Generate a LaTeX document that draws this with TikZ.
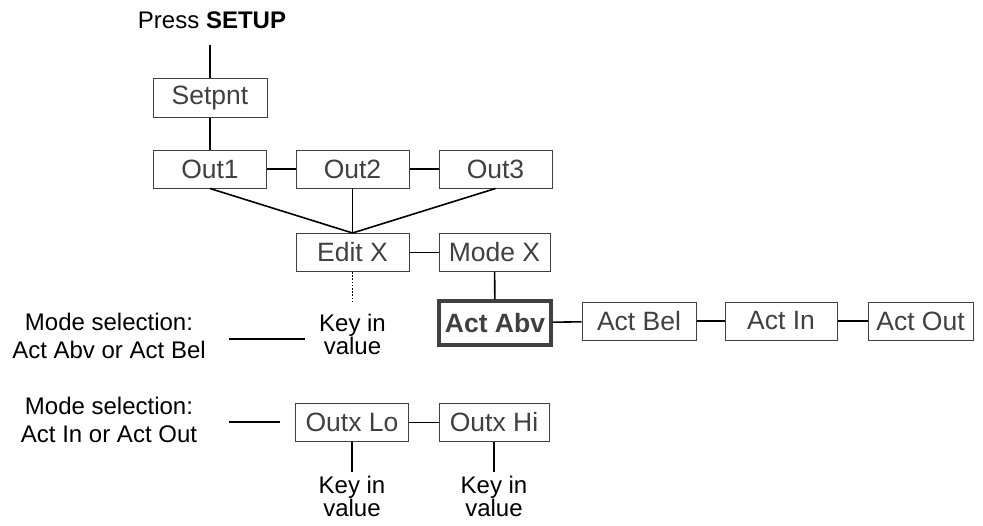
\documentclass[tikz,border=0pt]{standalone}
\usepackage{fontspec}
\setmainfont{Liberation Sans}
\begin{document}
\begin{tikzpicture}[x=1pt,y=-1pt,
  box/.style={draw=black!75,line width=1pt,text=black!75,minimum width=113pt,minimum height=38pt,inner sep=0pt,font=\fontsize{26.5}{30}\selectfont},
  boldbox/.style={box,line width=3.5pt,minimum width=112pt,minimum height=44pt,font=\fontsize{26.5}{30}\selectfont\bfseries},
  lbl/.style={align=center,inner sep=0pt,font=\fontsize{24}{28}\selectfont},
  kv/.style={align=center,inner sep=0pt,font=\fontsize{24}{23}\selectfont},
  conn/.style={line width=1.6pt,black}]
\useasboundingbox (0,0) rectangle (983,525);
\node[lbl] (press) at (212,20) {Press \textbf{SETUP}};
\coordinate (top) at (210,45);
\node[box,minimum width=114pt,minimum height=39pt] (setpnt) at (210,97.5) {Setpnt};
\node[box] (out1) at (210,169) {Out1};
\node[box] (out2) at (352.5,169) {Out2};
\node[box] (out3) at (495.5,169) {Out3};
\node[box] (editx) at (352.5,252.5) {Edit X};
\node[box,minimum width=111pt] (modex) at (494.5,252.5) {Mode X};
\node[boldbox] (actabv) at (495,323) {Act Abv};
\node[box,minimum width=114pt] (actbel) at (639,321) {Act Bel};
\node[box,minimum width=112pt] (actin) at (781,321) {Act In};
\node[box,minimum width=105pt] (actout) at (920.5,321) {Act Out};
\coordinate (dotend) at (352.5,302);
\node[kv] (kv1) at (352.5,334) {Key in\\value};
\node[lbl] (mode1) at (109,336) {Mode selection:\\Act Abv or Act Bel};
\coordinate (m1a) at (229,339);
\coordinate (m1b) at (305,339);
\node[lbl] (mode2) at (109,420) {Mode selection:\\Act In or Act Out};
\coordinate (m2a) at (229,422);
\coordinate (m2b) at (280,422);
\node[box] (outlo) at (352,422.5) {Outx Lo};
\node[box,minimum width=110pt] (outhi) at (494,422.5) {Outx Hi};
\coordinate (lo2) at (352,472);
\coordinate (hi2) at (494,472);
\node[kv] (kv2) at (352,496) {Key in\\value};
\node[kv] (kv3) at (494,496) {Key in\\value};
\draw[conn] (top) -- (setpnt);
\draw[conn] (setpnt) -- (out1);
\draw[conn] (out1) -- (out2);
\draw[conn] (out2) -- (out3);
\draw[conn] (out1.south) -- (editx.north);
\draw[conn] (out2.south) -- (editx.north);
\draw[conn] (out3.south) -- (editx.north);
\draw[conn] (editx) -- (modex);
\draw[line width=1.6pt,dash pattern=on 1.6pt off 1.6pt] (editx.south) -- (dotend);
\draw[conn] (modex) -- (actabv);
\draw[conn] (actabv) -- (actbel);
\draw[conn] (actbel) -- (actin);
\draw[conn] (actin) -- (actout);
\draw[conn] (m1a) -- (m1b);
\draw[conn] (m2a) -- (m2b);
\draw[conn] (outlo) -- (outhi);
\draw[conn] (outlo.south) -- (lo2);
\draw[conn] (outhi.south) -- (hi2);
\end{tikzpicture}
\end{document}
